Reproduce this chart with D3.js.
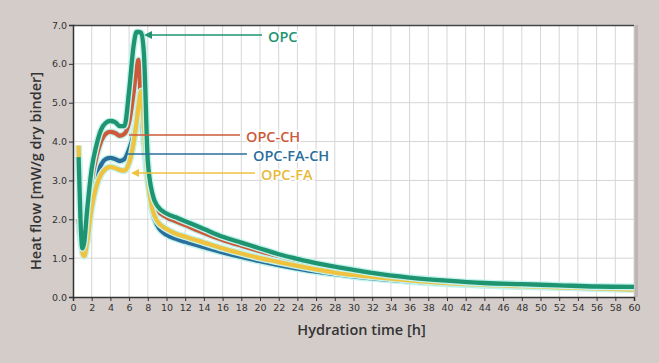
<!DOCTYPE html>
<html>
<head>
<meta charset="utf-8">
<script src="https://cdn.jsdelivr.net/npm/d3@7"></script>
<style>
  body { margin: 0; background: #d3ccc9; }
  svg { display: block; font-family: "Open Sans", "DejaVu Sans", sans-serif; }
</style>
</head>
<body>
<div id="wrapper"></div>
<script>
var W = 659, H = 363;
var margin = {top: 25, right: 25, bottom: 66, left: 73};
var width = W - margin.left - margin.right;
var height = H - margin.top - margin.bottom;

// hydration time [h]
var hours = [0.6, 0.8, 1.0, 1.2, 1.5, 2.0, 2.5, 3.0, 3.5, 4.0, 4.5, 5.0, 5.5, 6.0, 6.5, 6.8, 7.0, 7.3, 7.6, 8.0, 8.5, 9.0,
             10, 11, 12, 14, 16, 18, 20, 22, 24, 26, 28, 30, 32, 36, 40, 44, 48, 52, 56, 60];

var opc =      [3.6, 2.0, 1.25, 1.4, 2.2, 3.3, 3.9, 4.3, 4.48, 4.53, 4.5, 4.4, 4.4, 5.3, 6.5, 6.82, 6.82, 6.8, 6.2, 3.5, 2.65, 2.35,
                2.15, 2.05, 1.95, 1.75, 1.55, 1.4, 1.25, 1.1, 0.98, 0.87, 0.78, 0.7, 0.62, 0.5, 0.42, 0.36, 0.33, 0.3, 0.27, 0.26];
var opcCH =    [2.0, 1.5, 1.25, 1.35, 2.0, 3.0, 3.6, 4.0, 4.2, 4.25, 4.22, 4.15, 4.2, 4.5, 5.3, 5.9, 6.1, 4.8, 3.9, 3.0, 2.5, 2.25,
                2.05, 1.95, 1.85, 1.65, 1.47, 1.32, 1.18, 1.05, 0.93, 0.83, 0.74, 0.66, 0.59, 0.48, 0.4, 0.34, 0.3, 0.27, 0.25, 0.24];
var opcFACH =  [3.4, 2.0, 1.2, 1.3, 1.8, 2.6, 3.1, 3.4, 3.55, 3.58, 3.55, 3.5, 3.55, 3.8, 4.2, 4.5, 4.65, 4.8, 4.85, 3.4, 2.2, 1.85,
                1.6, 1.5, 1.42, 1.28, 1.15, 1.03, 0.92, 0.82, 0.73, 0.65, 0.59, 0.53, 0.48, 0.4, 0.34, 0.3, 0.27, 0.25, 0.23, 0.22];
var opcFA =    [3.9, 2.2, 1.15, 1.05, 1.4, 2.3, 2.85, 3.15, 3.3, 3.35, 3.32, 3.27, 3.25, 3.45, 4.0, 4.5, 4.9, 5.3, 4.3, 3.0, 2.25, 1.95,
                1.75, 1.63, 1.55, 1.4, 1.25, 1.12, 1.0, 0.9, 0.8, 0.71, 0.63, 0.57, 0.52, 0.43, 0.36, 0.31, 0.28, 0.25, 0.22, 0.19];

var xTicks = d3.range(0, 61, 2);
var yTicks = [0, 1, 2, 3, 4, 5, 6, 7];

// draw order: blue, red, yellow, green on top
var series = [
  {name: "OPC-FA-CH", values: opcFACH, color: "#2a6f9c", lx: 253, ly: 156, ax: 126},
  {name: "OPC-CH",    values: opcCH,   color: "#cc5a3a", lx: 246, ly: 137, ax: 129},
  {name: "OPC-FA",    values: opcFA,   color: "#efc23f", lx: 261, ly: 175, ax: 131, head: true, textColor: "#e8b93a"},
  {name: "OPC",       values: opc,     color: "#1e9470", lx: 268, ly: 37,  ax: 144, head: true}
];

var svg = d3.select("#wrapper").append("svg")
  .attr("width", W)
  .attr("height", H);

var g = svg.append("g")
  .attr("transform", "translate(" + margin.left + "," + margin.top + ")");

var x = d3.scaleLinear().domain([0, 60]).range([0, width]);
var y = d3.scaleLinear().domain([0, 7]).range([height, 0]);

// shadow on the right + plot background
g.append("rect")
  .attr("x", width).attr("y", 0)
  .attr("width", 4).attr("height", height)
  .attr("fill", "#bdb5b2");
g.append("rect")
  .attr("width", width).attr("height", height)
  .attr("fill", "#ffffff");

// grid
g.selectAll("line.vgrid")
  .data(xTicks.slice(1))
  .enter().append("line")
  .attr("class", "vgrid")
  .attr("x1", function(d) { return x(d); })
  .attr("x2", function(d) { return x(d); })
  .attr("y1", 0).attr("y2", height)
  .attr("stroke", "#d6d6d6").attr("stroke-width", 1);
g.selectAll("line.hgrid")
  .data(yTicks.slice(1))
  .enter().append("line")
  .attr("class", "hgrid")
  .attr("x1", 0).attr("x2", width)
  .attr("y1", function(d) { return y(d); })
  .attr("y2", function(d) { return y(d); })
  .attr("stroke", "#d6d6d6").attr("stroke-width", 1);

// top border
g.append("line")
  .attr("x1", 0).attr("x2", width).attr("y1", 0.5).attr("y2", 0.5)
  .attr("stroke", "#444").attr("stroke-width", 1.5);

// axes
var xAxis = g.append("g")
  .attr("transform", "translate(0," + height + ")")
  .call(d3.axisBottom(x).tickValues(xTicks).tickSize(4).tickPadding(3).tickFormat(d3.format("d")));
var yAxis = g.append("g")
  .call(d3.axisLeft(y).tickValues(yTicks).tickSize(4).tickPadding(2).tickFormat(d3.format(".1f")));

[xAxis, yAxis].forEach(function(a) {
  a.select(".domain").attr("stroke", "#333").attr("stroke-width", 1.5);
  a.selectAll(".tick line").attr("stroke", "#333");
  a.selectAll("text")
    .attr("fill", "#333")
    .style("font-size", "9.5px")
    .style("font-family", "'DejaVu Sans', sans-serif");
});

// curves
var line = d3.line()
  .x(function(d) { return x(d[0]); })
  .y(function(d) { return y(d[1]); })
  .curve(d3.curveMonotoneX);

series.forEach(function(s) {
  var pts = hours.map(function(h, i) { return [h, s.values[i]]; });
  g.append("path")
    .datum(pts)
    .attr("fill", "none")
    .attr("stroke", "#c4f2ec")
    .attr("stroke-width", 7)
    .attr("stroke-linejoin", "round")
    .attr("d", line);
  g.append("path")
    .datum(pts)
    .attr("fill", "none")
    .attr("stroke", s.color)
    .attr("stroke-width", 4.3)
    .attr("stroke-linejoin", "round")
    .attr("d", line);
});

// callouts (pointer lines + labels), in page coordinates
var ann = svg.append("g");
series.forEach(function(s) {
  var yl = s.ly - 2;
  ann.append("line")
    .attr("x1", s.ax + (s.head ? 6 : 0)).attr("x2", s.lx - 6)
    .attr("y1", yl).attr("y2", yl)
    .attr("stroke", s.color).attr("stroke-width", 1.3);
  if (s.head) {
    ann.append("path")
      .attr("d", "M" + s.ax + "," + yl + "L" + (s.ax + 8) + "," + (yl - 4) + "L" + (s.ax + 8) + "," + (yl + 4) + "Z")
      .attr("fill", s.color);
  }
  ann.append("text")
    .attr("x", s.lx).attr("y", s.ly)
    .attr("dy", "0.35em")
    .attr("fill", s.textColor || s.color)
    .attr("stroke", "#ffffff").attr("stroke-width", 3).attr("paint-order", "stroke")
    .style("font-size", "14.5px")
    .style("font-weight", "600")
    .text(s.name);
});

// axis titles
svg.append("text")
  .attr("x", margin.left + width / 2 + 8).attr("y", 330)
  .attr("dy", "0.35em")
  .attr("text-anchor", "middle")
  .attr("fill", "#333")
  .style("font-size", "14.5px")
  .style("font-weight", "600")
  .text("Hydration time [h]");

svg.append("text")
  .attr("transform", "translate(36," + 171 + ") rotate(-90)")
  .attr("text-anchor", "middle")
  .attr("dy", "0.35em")
  .attr("fill", "#333")
  .style("font-size", "14.5px")
  .style("font-weight", "600")
  .text("Heat flow [mW/g dry binder]");
</script>
</body>
</html>
